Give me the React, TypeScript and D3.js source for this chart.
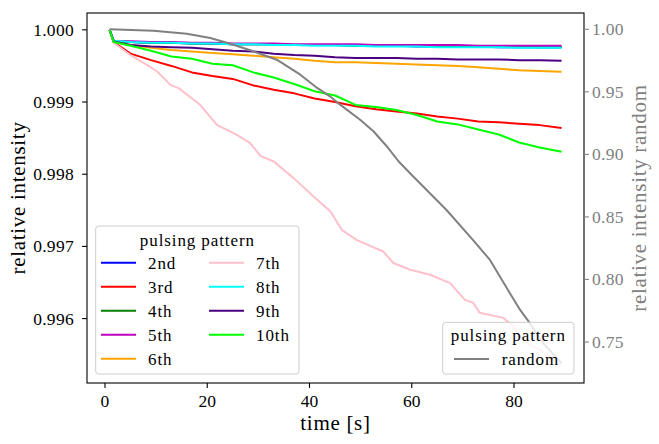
import React from "react";
import * as d3 from "d3";

const W = 659;
const H = 444;
const M = { left: 87, top: 13, right: 584, bottom: 383 };

// axis limits
const X_DOMAIN: [number, number] = [-3.52, 93.69];
const Y_LEFT_DOMAIN: [number, number] = [0.995108, 1.000233];
const Y_RIGHT_DOMAIN: [number, number] = [0.7172, 1.01303];

const X_TICKS = [0, 20, 40, 60, 80];
const Y_LEFT_TICKS = [0.996, 0.997, 0.998, 0.999, 1.0];
const Y_RIGHT_TICKS = [0.75, 0.8, 0.85, 0.9, 0.95, 1.0];

const TIME = [0.9, 1.7, 5, 9, 13, 17, 21, 25, 29, 33, 37, 41, 45, 49, 53, 57, 61, 65, 69, 73, 77, 81, 85, 89.3];

const S2 = [1, 0.99984, 0.99983, 0.99982, 0.99982, 0.99981, 0.99981, 0.9998, 0.9998, 0.9998, 0.99979, 0.99979, 0.99979, 0.99978, 0.99978, 0.99978, 0.99977, 0.99977, 0.99977, 0.99977, 0.99976, 0.99976, 0.99976, 0.99976];
const S3 = [1, 0.99983, 0.99967, 0.99958, 0.9995, 0.99941, 0.99936, 0.99932, 0.99923, 0.99917, 0.99912, 0.99905, 0.999, 0.99894, 0.9989, 0.99887, 0.99884, 0.9988, 0.99877, 0.99873, 0.99872, 0.9987, 0.99868, 0.99864];
const S4 = [1, 0.99984, 0.99983, 0.99982, 0.99982, 0.99981, 0.99981, 0.9998, 0.9998, 0.9998, 0.99979, 0.99979, 0.99979, 0.99978, 0.99978, 0.99978, 0.99978, 0.99977, 0.99977, 0.99977, 0.99977, 0.99977, 0.99976, 0.99976];
const S5 = [1, 0.99985, 0.99984, 0.99983, 0.99983, 0.99982, 0.99982, 0.99981, 0.99981, 0.99981, 0.9998, 0.9998, 0.9998, 0.9998, 0.99979, 0.99979, 0.99979, 0.99979, 0.99979, 0.99978, 0.99978, 0.99978, 0.99978, 0.99978];
const S6 = [1, 0.99983, 0.99979, 0.99975, 0.99972, 0.9997, 0.99968, 0.99966, 0.99964, 0.99962, 0.9996, 0.99957, 0.99955, 0.99955, 0.99954, 0.99953, 0.99952, 0.99951, 0.9995, 0.99948, 0.99946, 0.99944, 0.99943, 0.99942];
const S8 = [1, 0.99985, 0.99983, 0.99982, 0.99982, 0.99981, 0.99981, 0.9998, 0.9998, 0.99979, 0.99979, 0.99978, 0.99978, 0.99978, 0.99977, 0.99977, 0.99977, 0.99976, 0.99976, 0.99976, 0.99976, 0.99975, 0.99975, 0.99975];
const S9 = [1, 0.99984, 0.99979, 0.99977, 0.99976, 0.99975, 0.99973, 0.99971, 0.9997, 0.99967, 0.99965, 0.99964, 0.99962, 0.99961, 0.99961, 0.99961, 0.9996, 0.9996, 0.99959, 0.99959, 0.99959, 0.99958, 0.99958, 0.99957];
const S10 = [1, 0.99983, 0.99978, 0.99971, 0.99963, 0.9996, 0.99953, 0.99951, 0.99941, 0.99934, 0.99925, 0.99915, 0.99909, 0.99896, 0.99893, 0.99889, 0.99882, 0.99873, 0.99869, 0.99862, 0.99855, 0.99844, 0.99837, 0.99831];

// 7th pattern, read at its own times
const S7_T = [0.9, 1.7, 4.9, 8.2, 10.2, 12.8, 14.4, 18.6, 21.9, 25.8, 28.4, 30.4, 33, 36.9, 40.8, 44.1, 46.3, 49.2, 54.4, 56.4, 59.7, 63.6, 67.5, 70.4, 72, 73.3, 77.9, 79.9, 82.5, 85.1, 89.3];
const S7 = [1, 0.99982, 0.999654, 0.999515, 0.999423, 0.999238, 0.999192, 0.998961, 0.998684, 0.998546, 0.99843, 0.998255, 0.998176, 0.997946, 0.997691, 0.997483, 0.99723, 0.997091, 0.99693, 0.99677, 0.996676, 0.996607, 0.996492, 0.99626, 0.99622, 0.99608, 0.99601, 0.99589, 0.99566, 0.99557, 0.99535];

// random pattern (right axis)
const RAND_T = [0.9, 9.5, 16, 20.6, 24.5, 29, 33.6, 38.2, 41.5, 44, 45.4, 49.9, 52.5, 55.1, 57.4, 60, 66.8, 72, 75.3, 79.2, 81.2, 83.1, 85.7, 89.3];
const RAND = [1.0, 0.9989, 0.9965, 0.993, 0.9885, 0.9824, 0.9757, 0.9637, 0.9531, 0.9464, 0.9416, 0.9277, 0.9185, 0.9065, 0.8945, 0.8835, 0.8555, 0.8315, 0.8156, 0.789, 0.7756, 0.765, 0.749, 0.733];

const LABELS = ["2nd", "3rd", "4th", "5th", "6th", "7th", "8th", "9th", "10th"];
const COLORS = ["#0000ff", "#ff0000", "#008000", "#bf00bf", "#ffa500", "#ffc0cb", "#00ffff", "#4b0082", "#00ff00"];
const LEGEND_TITLE = "pulsing pattern";
const RAND_LABEL = "random";
const RAND_COLOR = "#808080";

const FONT = '"Liberation Serif", "Times New Roman", serif';
const txt = (size: number, ls = 0): React.CSSProperties => ({
  fontFamily: FONT,
  fontSize: size + "px",
  letterSpacing: ls + "px",
});

export default function App() {
  const x = d3.scaleLinear().domain(X_DOMAIN).range([M.left, M.right]);
  const yL = d3.scaleLinear().domain(Y_LEFT_DOMAIN).range([M.bottom, M.top]);
  const yR = d3.scaleLinear().domain(Y_RIGHT_DOMAIN).range([M.bottom, M.top]);

  const leftSeries: { t: number[]; v: number[] }[] = [
    { t: TIME, v: S2 },
    { t: TIME, v: S3 },
    { t: TIME, v: S4 },
    { t: TIME, v: S5 },
    { t: TIME, v: S6 },
    { t: S7_T, v: S7 },
    { t: TIME, v: S8 },
    { t: TIME, v: S9 },
    { t: TIME, v: S10 },
  ];

  const lineL = d3
    .line<[number, number]>()
    .x((d) => x(d[0]))
    .y((d) => yL(d[1]));
  const lineR = d3
    .line<[number, number]>()
    .x((d) => x(d[0]))
    .y((d) => yR(d[1]));

  const zip = (t: number[], v: number[]) => t.map((tt, i) => [tt, v[i]] as [number, number]);

  const fmtL = d3.format(".3f");
  const fmtR = d3.format(".2f");
  const tickLen = 4.9;

  const leg = { x: 95.7, y: 226, w: 203.3, h: 148 };
  const rowY = (i: number) => 262.7 + i * 24;
  const colX = [101, 209];
  const handleLen = 35;
  const legItems = LABELS.map((l, i) => ({
    label: l,
    color: COLORS[i],
    col: i < 5 ? 0 : 1,
    row: i < 5 ? i : i - 5,
  }));

  return (
    <div style={{ position: "absolute", left: 0, top: 0 }}>
      <svg width={W} height={H} style={{ display: "block", background: "#fff" }}>
        <rect x={0} y={0} width={W} height={H} fill="#fff" />
        <defs>
          <clipPath id="plotclip">
            <rect x={M.left} y={M.top} width={M.right - M.left} height={M.bottom - M.top} />
          </clipPath>
        </defs>

        <g clipPath="url(#plotclip)">
          {leftSeries.map((s, i) => (
            <path
              key={i}
              d={lineL(zip(s.t, s.v)) || ""}
              fill="none"
              stroke={COLORS[i]}
              strokeWidth={2}
              strokeLinejoin="round"
            />
          ))}
        </g>

        <g>
          <rect x={leg.x} y={leg.y} width={leg.w} height={leg.h} rx={3} ry={3} fill="#fff" fillOpacity={0.8} stroke="#cccccc" strokeWidth={1} />
          <text x={leg.x + leg.w / 2} y={245.5} textAnchor="middle" style={txt(17, 0.9)} fill="#000">
            {LEGEND_TITLE}
          </text>
          {legItems.map((it) => (
            <g key={it.label}>
              <line x1={colX[it.col]} x2={colX[it.col] + handleLen} y1={rowY(it.row)} y2={rowY(it.row)} stroke={it.color} strokeWidth={2} />
              <text x={colX[it.col] + 47} y={rowY(it.row) + 6} style={txt(17, 0.9)} fill="#000">
                {it.label}
              </text>
            </g>
          ))}
        </g>

        <g clipPath="url(#plotclip)">
          <path d={lineR(zip(RAND_T, RAND)) || ""} fill="none" stroke={RAND_COLOR} strokeWidth={2} strokeLinejoin="round" />
        </g>

        <g>
          <rect x={442.7} y={322.3} width={131.3} height={51.7} rx={3} ry={3} fill="#fff" fillOpacity={0.8} stroke="#cccccc" strokeWidth={1} />
          <text x={508.3} y={340.5} textAnchor="middle" style={txt(17, 0.9)} fill="#000">
            {LEGEND_TITLE}
          </text>
          <line x1={454} x2={454 + handleLen} y1={359} y2={359} stroke={RAND_COLOR} strokeWidth={2} />
          <text x={501.7} y={365} style={txt(17, 0.9)} fill="#000">
            {RAND_LABEL}
          </text>
        </g>

        <rect x={M.left} y={M.top} width={M.right - M.left} height={M.bottom - M.top} fill="none" stroke="#000" strokeWidth={1.1} />

        {X_TICKS.map((t) => (
          <g key={"x" + t}>
            <line x1={x(t)} x2={x(t)} y1={M.bottom} y2={M.bottom + tickLen} stroke="#000" strokeWidth={1.1} />
            <text x={x(t)} y={407} textAnchor="middle" style={txt(17.5)} fill="#000">
              {t}
            </text>
          </g>
        ))}
        <text x={(M.left + M.right) / 2} y={430} textAnchor="middle" style={txt(21, 0.7)} fill="#000">
          time [s]
        </text>

        {Y_LEFT_TICKS.map((t) => (
          <g key={"yl" + t}>
            <line x1={M.left - tickLen} x2={M.left} y1={yL(t)} y2={yL(t)} stroke="#000" strokeWidth={1.1} />
            <text x={74} y={yL(t) + 6} textAnchor="end" style={txt(17.5, 0.3)} fill="#000">
              {fmtL(t)}
            </text>
          </g>
        ))}
        <text transform={`translate(25,${(M.top + M.bottom) / 2}) rotate(-90)`} textAnchor="middle" style={txt(21, 0.7)} fill="#000">
          relative intensity
        </text>

        {Y_RIGHT_TICKS.map((t) => (
          <g key={"yr" + t}>
            <line x1={M.right} x2={M.right + tickLen} y1={yR(t)} y2={yR(t)} stroke={RAND_COLOR} strokeWidth={1.1} />
            <text x={592} y={yR(t) + 6} textAnchor="start" style={txt(17.5, 0.3)} fill={RAND_COLOR}>
              {fmtR(t)}
            </text>
          </g>
        ))}
        <text transform={`translate(646,${(M.top + M.bottom) / 2}) rotate(-90)`} textAnchor="middle" style={txt(21, 0.7)} fill={RAND_COLOR}>
          relative intensity random
        </text>
      </svg>
    </div>
  );
}
